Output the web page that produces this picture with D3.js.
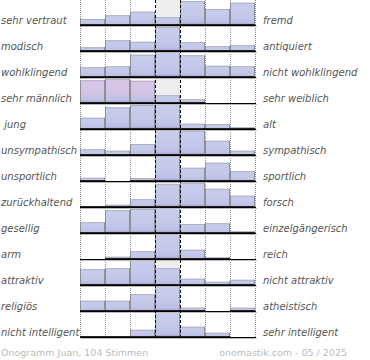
<!DOCTYPE html>
<html>
<head>
<meta charset="utf-8">
<script src="https://cdn.jsdelivr.net/npm/d3@7/dist/d3.min.js"></script>
<style>
  body { margin: 0; background: #fff; }
  svg { display: block; }
</style>
</head>
<body>
<script>
// Left / right adjective pairs
const leftLabels = ["sehr vertraut", "modisch", "wohlklingend", "sehr männlich", " jung",
  "unsympathisch", "unsportlich", "zurückhaltend", "gesellig", "arm", "attraktiv",
  "religiös", "nicht intelligent"];
const rightLabels = ["fremd", "antiquiert", "nicht wohlklingend", "sehr weiblich", "alt",
  "sympathisch", "sportlich", "forsch", "einzelgängerisch", "reich", "nicht attraktiv",
  "atheistisch", "sehr intelligent"];
// Bar heights per row (7 scale steps), percent of row height
const values = [
  [24, 39, 53, 31, 96, 64, 89],
  [15, 43, 37, 97, 35, 19, 23],
  [39, 43, 89, 100, 87, 45, 43],
  [91, 97, 89, 31, 15, 0, 0],
  [45, 87, 96, 100, 21, 20, 7],
  [23, 17, 44, 100, 97, 57, 17],
  [13, 0, 12, 100, 53, 73, 39],
  [4, 9, 31, 91, 97, 73, 45],
  [43, 91, 96, 100, 36, 39, 7],
  [0, 9, 31, 100, 37, 7, 0],
  [63, 67, 100, 67, 25, 13, 21],
  [41, 41, 67, 100, 13, 0, 13],
  [4, 4, 29, 100, 41, 17, 0]
];
// Rows whose bars are tinted (row index -> columns)
const tinted = [[3, [0, 1, 2]]];
const steps = [0, 1, 2, 3, 4, 5, 6];
const footerLeft = "Onogramm Juan, 104 Stimmen";
const footerRight = "onomastik.com - 05 / 2025";

const W = 370, H = 360;
const svg = d3.select("body").append("svg").attr("width", W).attr("height", H);

const rows = d3.scaleBand().domain(d3.range(leftLabels.length)).range([0, 338]);
const x = d3.scaleBand().domain(steps).range([80, 255]);
const h = d3.scaleLinear().domain([0, 100]).range([0, 25]);
const base = i => rows(i) + 25;

const defs = svg.append("defs");
function grad(id, top, mid) {
  const g = defs.append("linearGradient").attr("id", id)
    .attr("x1", 0).attr("y1", 0).attr("x2", 0).attr("y2", 1);
  g.append("stop").attr("offset", "0%").attr("stop-color", top);
  g.append("stop").attr("offset", "60%").attr("stop-color", mid);
  g.append("stop").attr("offset", "88%").attr("stop-color", "#bdbfe4");
  g.append("stop").attr("offset", "100%").attr("stop-color", "#a493cb");
}
grad("gBlue", "#c8cdec", "#c3c8ea");
grad("gPink", "#dcc6e6", "#d0c4e6");

const isTinted = (i, j) => tinted.some(([r, cols]) => r === i && cols.includes(j));

// dotted verticals
const dotted = [0, 1, 2, 5, 6].map(j => x(j)).concat([x(6) + x.bandwidth()]);
svg.selectAll("line.dot").data(dotted).join("line")
  .attr("x1", d => d + 0.5).attr("x2", d => d + 0.5)
  .attr("y1", 0).attr("y2", 338)
  .attr("stroke", "#8a8a8a").attr("stroke-dasharray", "1,1");

// middle column gray background
svg.selectAll("rect.mid").data(d3.range(leftLabels.length)).join("rect")
  .attr("x", x(3)).attr("y", i => rows(i)).attr("width", x.bandwidth()).attr("height", 25)
  .attr("fill", "#eeeeee");

// bars
const bars = [];
values.forEach((row, i) => row.forEach((v, j) => { if (v > 0) bars.push({ i, j, v }); }));
const bw = x.bandwidth();
const g = svg.append("g");
bars.forEach(b => {
  const top = base(b.i) - h(b.v), bh = h(b.v), x0 = x(b.j);
  g.append("rect").attr("x", x0).attr("y", top).attr("width", bw).attr("height", bh)
    .attr("fill", isTinted(b.i, b.j) ? "url(#gPink)" : "url(#gBlue)");
  g.append("line").attr("x1", x0).attr("x2", x0 + bw).attr("y1", top + 0.5).attr("y2", top + 0.5)
    .attr("stroke", "#adafc4");
  g.append("line").attr("x1", x0 + 0.5).attr("x2", x0 + 0.5).attr("y1", top).attr("y2", base(b.i))
    .attr("stroke", "#8e8e98");
  g.append("line").attr("x1", x0 + bw - 0.5).attr("x2", x0 + bw - 0.5).attr("y1", top).attr("y2", base(b.i))
    .attr("stroke", "#8e8e98");
  // thicker bottom under bar
  g.append("rect").attr("x", x0).attr("y", base(b.i) - 1).attr("width", bw).attr("height", 1)
    .attr("fill", "#222");
});

// baselines
svg.selectAll("line.base").data(d3.range(leftLabels.length)).join("line")
  .attr("x1", 80).attr("x2", 256)
  .attr("y1", i => base(i) + 0.5).attr("y2", i => base(i) + 0.5)
  .attr("stroke", "#000");
svg.selectAll("line.shadow").data(d3.range(leftLabels.length)).join("line")
  .attr("x1", 81).attr("x2", 257)
  .attr("y1", i => base(i) + 1.5).attr("y2", i => base(i) + 1.5)
  .attr("stroke", "#bbb");

// dashed middle verticals
svg.selectAll("line.dash").data([x(3), x(4)]).join("line")
  .attr("x1", d => d + 0.5).attr("x2", d => d + 0.5)
  .attr("y1", 0).attr("y2", 338)
  .attr("stroke", "#000").attr("stroke-dasharray", "3,2");

// labels
const font = "DejaVu Sans, Verdana, sans-serif";
svg.selectAll("text.l").data(leftLabels).join("text")
  .attr("x", 1).attr("y", (d, i) => base(i) - 1)
  .attr("font-family", font).attr("font-size", 10).attr("font-style", "italic")
  .attr("fill", "#555").style("white-space", "pre").text(d => d);
svg.selectAll("text.r").data(rightLabels).join("text")
  .attr("x", 263).attr("y", (d, i) => base(i) - 1)
  .attr("font-family", font).attr("font-size", 10).attr("font-style", "italic")
  .attr("fill", "#555").text(d => d);

// footer
svg.append("text").attr("x", 1).attr("y", 356)
  .attr("font-family", font).attr("font-size", 9.5).attr("fill", "#bbb").text(footerLeft);
svg.append("text").attr("x", 347).attr("y", 356).attr("text-anchor", "end")
  .attr("font-family", font).attr("font-size", 9.5).attr("fill", "#bbb").text(footerRight);
</script>
</body>
</html>
